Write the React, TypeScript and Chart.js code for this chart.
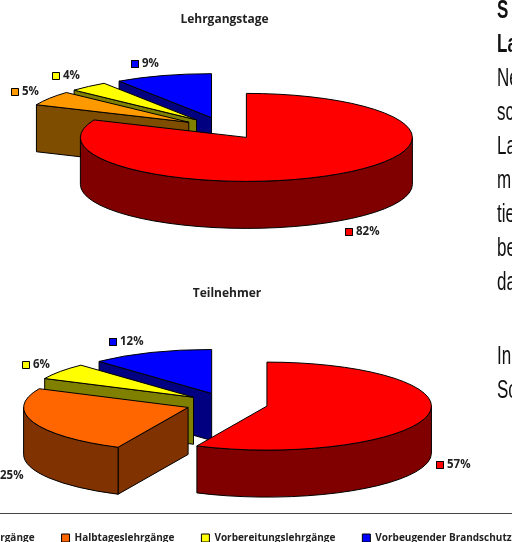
import React, { useEffect, useRef } from "react";
import { Chart, registerables } from "chart.js";

Chart.register(...registerables);

const categories = ["Ganztageslehrgänge", "Halbtageslehrgänge", "Vorbereitungslehrgänge", "Vorbeugender Brandschutz"];
const titleDays = "Lehrgangstage";
const titlePeople = "Teilnehmer";
const valuesDays = [81.5, 5.3, 3.8, 9.4];
const valuesPeople = [57, 25, 6, 12];
const faceDays = ["#ff0000", "#ff9900", "#ffff00", "#0000ff"];
const wallDays = ["#800000", "#7f4d00", "#808000", "#000080"];
const facePeople = ["#ff0000", "#ff6600", "#ffff00", "#0000ff"];
const wallPeople = ["#800000", "#803300", "#808000", "#000080"];
const sideLines = [
  { text: "S", bold: true }, { text: "La", bold: true }, { text: "Ne" }, { text: "sc" }, { text: "La" },
  { text: "m" }, { text: "tie" }, { text: "be" }, { text: "da" }, { text: "" }, { text: "In" }, { text: "Sc" },
];
const FONT = "'Open Sans', sans-serif";

const pie3d = {
  id: "pie3d",
  beforeDatasetDraw(chart: any, args: any, o: any) {
    const ctx = chart.ctx;
    const meta = chart.getDatasetMeta(args.index);
    ctx.save();
    ctx.strokeStyle = "#000";
    ctx.lineWidth = 1;
    ctx.lineJoin = "round";
    for (let i = meta.data.length - 1; i >= 0; i--) {
      const el = meta.data[i];
      const a0 = el.startAngle, a1 = el.endAngle, mid = (a0 + a1) / 2;
      const ax = o.cx + o.explode * o.rx * Math.cos(mid);
      const ay = o.cy + o.explode * o.ry * Math.sin(mid);
      const px = (a: number) => ax + o.rx * Math.cos(a);
      const py = (a: number) => ay + o.ry * Math.sin(a);
      ctx.fillStyle = o.walls[i];
      const radial = (a: number) => {
        ctx.beginPath();
        ctx.moveTo(ax, ay);
        ctx.lineTo(px(a), py(a));
        ctx.lineTo(px(a), py(a) + o.depth);
        ctx.lineTo(ax, ay + o.depth);
        ctx.closePath();
        ctx.fill();
        ctx.stroke();
      };
      if (Math.cos(a0) < 0) radial(a0);
      if (Math.cos(a1) > 0) radial(a1);
      const lo = Math.max(a0, 0), hi = Math.min(a1, Math.PI);
      if (hi > lo) {
        ctx.beginPath();
        ctx.ellipse(ax, ay, o.rx, o.ry, 0, lo, hi);
        ctx.lineTo(px(hi), py(hi) + o.depth);
        ctx.ellipse(ax, ay + o.depth, o.rx, o.ry, 0, hi, lo, true);
        ctx.closePath();
        ctx.fill();
        ctx.stroke();
      }
      ctx.save();
      ctx.translate(ax, ay);
      ctx.scale(o.rx / el.outerRadius, o.ry / el.outerRadius);
      ctx.translate(-el.x, -el.y);
      el.draw(ctx);
      ctx.restore();
      ctx.beginPath();
      ctx.moveTo(ax, ay);
      ctx.ellipse(ax, ay, o.rx, o.ry, 0, a0, a1);
      ctx.closePath();
      ctx.stroke();
    }
    ctx.font = `bold ${o.labelSize}px ${FONT}`;
    ctx.textBaseline = "middle";
    ctx.textAlign = "left";
    const values = chart.data.datasets[args.index].data;
    values.forEach((v: number, i: number) => {
      const [x, y] = o.labelAt[i];
      ctx.fillStyle = meta.data[i].options.backgroundColor;
      ctx.fillRect(x, y - 4, 8, 8);
      ctx.strokeRect(x + 0.5, y - 3.5, 7, 7);
      ctx.fillStyle = "#222";
      ctx.fillText(`${Math.round(v)}%`, x + 11, y);
    });
    ctx.restore();
    return false;
  },
};

function PieChart(props: any) {
  const ref = useRef<HTMLCanvasElement>(null);
  useEffect(() => {
    const chart = new Chart(ref.current as HTMLCanvasElement, {
      type: "pie",
      data: {
        labels: categories,
        datasets: [{ data: props.values, backgroundColor: props.faces, borderWidth: 0 }],
      },
      options: {
        animation: false,
        responsive: false,
        layout: { padding: 0 },
        plugins: {
          tooltip: { enabled: false },
          title: {
            display: true,
            text: props.title,
            color: "#222",
            font: { family: FONT, size: 12, weight: "bold" },
            padding: { top: props.titleTop, bottom: 4 },
          },
          legend: props.legend
            ? {
                display: true,
                position: "bottom",
                align: "start",
                labels: {
                  boxWidth: 8,
                  boxHeight: 8,
                  padding: 27,
                  color: "#222",
                  font: { family: FONT, size: 10, weight: "bold" },
                  generateLabels: (c: any) =>
                    Chart.overrides.pie.plugins.legend.labels.generateLabels(c).map((l: any) => ({
                      ...l,
                      strokeStyle: "#000",
                      lineWidth: 1,
                    })),
                },
              }
            : { display: false },
          pie3d: props.geo,
        } as any,
      },
      plugins: [pie3d as any],
    });
    return () => chart.destroy();
  }, []);
  return (
    <canvas
      ref={ref}
      width={props.w}
      height={props.h}
      style={{ position: "absolute", left: props.x, top: props.y, width: props.w, height: props.h }}
    />
  );
}

export default function App() {
  return (
    <div style={{ position: "absolute", left: 0, top: 0, width: 512, height: 542, overflow: "hidden", background: "#fff" }}>
      <PieChart
        title={titleDays}
        values={valuesDays}
        faces={faceDays}
        x={0}
        y={0}
        w={449}
        h={262}
        titleTop={12}
        geo={{
          cx: 223.6, cy: 128.2, rx: 166, ry: 44, depth: 47, explode: 0.25, walls: wallDays, labelSize: 11.5,
          labelAt: [[345, 232], [11, 92], [52, 76], [131, 64]],
        }}
      />
      <PieChart
        title={titlePeople}
        values={valuesPeople}
        faces={facePeople}
        x={-107}
        y={0}
        w={668}
        h={553}
        titleTop={286}
        legend
        geo={{
          cx: 333.8, cy: 403.7, rx: 164.5, ry: 44, depth: 47, explode: 0.25, walls: wallPeople, labelSize: 11.5,
          labelAt: [[543, 465], [96, 476], [129, 365], [216, 342]],
        }}
      />
      <div style={{ position: "absolute", left: 0, top: 513, width: 512, height: 1, background: "#444" }} />
      <div style={{ position: "absolute", left: 497, top: 0, width: 15, height: 542, overflow: "hidden" }}>
        <div
          style={{
            marginTop: -8, width: 40, transform: "scaleX(0.68)", transformOrigin: "left top",
            font: "25px/34px 'Liberation Sans', sans-serif", color: "#111", whiteSpace: "nowrap",
          }}
        >
          {sideLines.map((l: any, i: number) => (
            <div key={i} style={{ height: i === 9 ? 40 : 34, fontWeight: l.bold ? "bold" : "normal" }}>{l.text}</div>
          ))}
        </div>
      </div>
    </div>
  );
}
